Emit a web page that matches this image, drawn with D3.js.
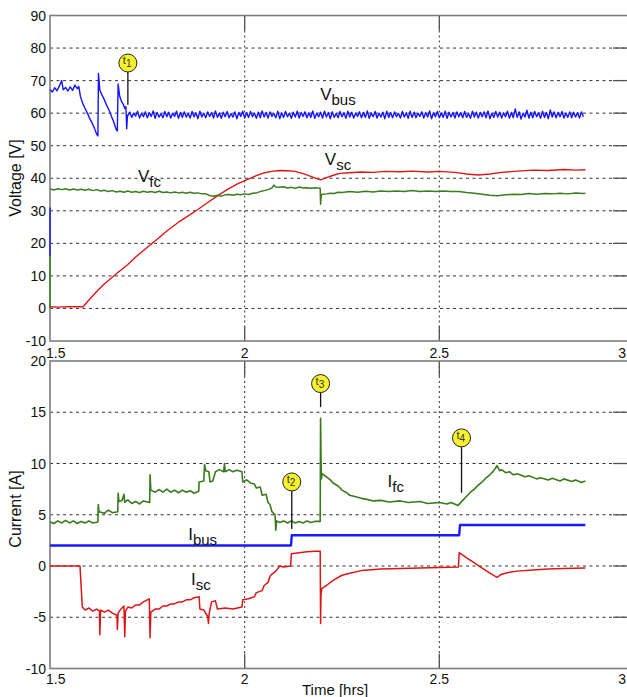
<!DOCTYPE html>
<html>
<head>
<meta charset="utf-8">
<script src="https://cdn.jsdelivr.net/npm/d3@7"></script>
<style>
  body { margin: 0; background: #fff; }
  text { font-family: "Liberation Sans", Arial, sans-serif; fill: #111; }
</style>
</head>
<body>
<svg id="chart" width="627" height="697"></svg>
<script>
// ---- data (time in hours) ----
var timeTicks = [1.5, 2, 2.5, 3];
var voltTicks = [-10, 0, 10, 20, 30, 40, 50, 60, 70, 80, 90];
var currTicks = [-10, -5, 0, 5, 10, 15, 20];

// V_bus: startup transient, then regulated ripple from 1.70 h
var vbusHead = [[1.5, 16], [1.5001, 31], [1.5002, null],
  [1.5005, 67.2], [1.506, 66.5], [1.512, 67.8], [1.518, 66.9], [1.524, 68.3], [1.530, 70.0],
  [1.534, 67.2], [1.540, 67.9], [1.546, 66.8], [1.552, 68.1], [1.558, 67.0], [1.564, 68.6],
  [1.570, 67.5], [1.574, 68.2], [1.578, 65.2], [1.584, 63.0], [1.590, 61.5], [1.596, 60.0],
  [1.602, 58.4], [1.608, 57.0], [1.614, 55.4], [1.620, 53.5], [1.623, 53.0], [1.6245, 72.2],
  [1.628, 67.0], [1.634, 65.5], [1.640, 64.0], [1.646, 62.3], [1.652, 60.8], [1.658, 59.0],
  [1.664, 57.2], [1.670, 55.0], [1.673, 54.5], [1.675, 69.0], [1.679, 65.2], [1.684, 63.5],
  [1.688, 62.8], [1.692, 61.4], [1.695, 62.0], [1.697, 55.2], [1.699, 59.4]];
var vbusRippleStart = 1.70, vbusRippleStep = 0.005;
var vbusRipple = [
  59.2, 60.3, 58.7, 60.0, 59.1, 60.6, 58.5, 59.9, 58.9, 60.4,
  58.6, 60.1, 59.0, 60.7, 58.4, 60.2, 58.8, 59.8, 58.6, 60.5,
  58.9, 60.3, 58.5, 60.0, 59.0, 60.6, 58.4, 60.2, 58.7, 60.4,
  58.8, 59.9, 58.5, 60.5, 58.9, 60.1, 58.3, 60.6, 58.8, 60.0,
  58.6, 60.4, 59.0, 60.2, 58.5, 60.7, 58.7, 60.0, 58.4, 60.3,
  58.9, 60.5, 58.6, 59.9, 58.8, 60.4, 58.3, 60.2, 59.0, 60.6,
  58.5, 60.1, 58.7, 60.5, 58.9, 60.0, 58.4, 60.3, 58.6, 60.7,
  58.8, 60.2, 58.5, 60.4, 59.0, 59.9, 58.6, 60.6, 58.3, 60.1,
  58.7, 60.5, 58.9, 60.0, 58.4, 60.3, 58.8, 60.6, 58.5, 60.2,
  59.0, 60.4, 58.6, 60.1, 58.7, 60.7, 58.4, 60.0, 58.9, 60.3,
  58.5, 60.6, 58.8, 60.2, 58.3, 60.4, 58.7, 59.9, 58.6, 60.5,
  58.9, 60.1, 58.4, 60.6, 58.8, 60.3, 58.5, 60.0, 59.0, 60.4,
  58.6, 60.2, 58.7, 60.7, 58.4, 60.1, 58.9, 60.5, 58.5, 60.0,
  58.8, 60.3, 58.3, 60.6, 58.7, 60.2, 58.6, 60.4, 58.9, 59.9,
  58.5, 60.5, 58.8, 60.1, 58.4, 60.6, 58.7, 60.3, 58.6, 60.0,
  59.0, 60.4, 58.5, 60.2, 58.8, 60.7, 58.3, 60.1, 58.9, 60.5,
  58.6, 60.0, 58.7, 60.6, 58.4, 60.3, 58.8, 60.2, 58.5, 60.4,
  58.9, 60.1, 58.6, 60.5, 58.7, 59.9, 58.4, 60.6, 58.8, 60.3,
  58.5, 60.2, 58.9, 60.4, 58.6, 60.7, 58.3, 60.0, 58.7, 60.5,
  58.8, 60.3, 58.5, 60.1, 58.9, 60.6, 58.4, 60.2, 58.6, 61.3,
  58.7, 60.4, 58.2, 60.0, 58.8, 60.9, 58.5, 60.3, 58.6, 60.5,
  58.9, 60.1, 58.4, 60.6, 58.7, 60.2, 58.3, 61.0, 58.8, 60.4,
  58.6, 60.2, 58.9, 60.5, 58.5, 60.0, 58.7, 60.4, 58.6, 60.3,
  58.8, 60.1, 58.5, 60.4, 58.9];

var vfc = [[1.5, 0], [1.5001, 16], [1.5002, null],
  [1.5005, 36.7], [1.51, 36.4], [1.52, 36.8], [1.53, 36.5], [1.54, 36.8], [1.55, 36.4], [1.56, 36.7],
  [1.57, 36.4], [1.58, 36.6], [1.59, 36.3], [1.60, 36.6], [1.61, 36.2], [1.62, 36.5], [1.63, 36.1],
  [1.64, 36.3], [1.65, 35.9], [1.66, 36.2], [1.67, 35.8], [1.68, 36.0], [1.69, 35.7], [1.70, 36.1],
  [1.71, 35.7], [1.72, 35.9], [1.73, 35.6], [1.74, 36.0], [1.75, 35.7], [1.76, 35.9], [1.77, 35.6],
  [1.78, 36.0], [1.79, 35.6], [1.80, 35.8], [1.81, 35.5], [1.82, 35.8], [1.83, 35.5], [1.84, 35.7],
  [1.85, 35.4], [1.86, 35.7], [1.87, 35.4], [1.88, 35.5], [1.89, 35.2], [1.90, 35.2], [1.91, 34.7],
  [1.92, 34.5], [1.93, 34.8], [1.94, 34.5], [1.95, 34.9], [1.96, 35.0], [1.97, 34.8], [1.98, 35.1],
  [1.99, 34.9], [2.00, 35.2], [2.01, 35.0], [2.02, 35.4], [2.03, 35.5], [2.04, 35.9], [2.05, 36.2],
  [2.06, 36.5], [2.07, 37.0], [2.075, 37.9], [2.08, 37.3], [2.09, 37.2], [2.10, 37.4], [2.11, 37.0],
  [2.12, 37.2], [2.13, 36.9], [2.14, 37.3], [2.15, 37.0], [2.16, 37.1], [2.17, 36.9], [2.18, 37.1],
  [2.194, 36.9], [2.195, 32.0], [2.197, 35.0], [2.21, 35.2], [2.22, 35.4], [2.23, 35.3], [2.24, 35.7],
  [2.25, 35.6], [2.27, 35.9], [2.29, 35.7], [2.31, 36.0], [2.33, 35.8], [2.35, 36.1], [2.37, 35.9],
  [2.39, 36.1], [2.41, 35.9], [2.43, 36.2], [2.45, 35.9], [2.47, 36.1], [2.49, 35.9], [2.51, 36.1],
  [2.53, 35.9], [2.55, 35.9], [2.57, 35.6], [2.59, 35.4], [2.61, 35.1], [2.63, 34.8], [2.65, 34.6],
  [2.67, 34.9], [2.69, 35.1], [2.71, 35.0], [2.73, 35.3], [2.75, 35.1], [2.77, 35.3], [2.79, 35.2],
  [2.81, 35.4], [2.83, 35.2], [2.85, 35.5], [2.87, 35.3], [2.875, 35.4]];

var vsc = [[1.5, 0.5], [1.52, 0.4], [1.55, 0.5], [1.585, 0.5], [1.60, 2.6], [1.62, 5.2],
  [1.64, 7.6], [1.66, 9.6], [1.672, 10.8], [1.70, 13.5], [1.72, 15.8], [1.74, 17.8], [1.757, 19.5],
  [1.78, 21.7], [1.80, 23.8], [1.83, 26.5], [1.852, 28.2], [1.88, 30.4], [1.903, 32.4], [1.93, 34.6],
  [1.954, 36.4], [1.98, 38.2], [2.005, 39.5], [2.03, 40.8], [2.048, 41.6], [2.07, 42.1], [2.09, 42.4],
  [2.11, 42.3], [2.13, 42.1], [2.15, 41.4], [2.17, 40.6], [2.185, 39.9], [2.195, 39.5], [2.21, 40.2],
  [2.23, 41.0], [2.245, 41.5], [2.27, 41.7], [2.30, 41.9], [2.33, 41.8], [2.36, 42.1], [2.40, 42.0],
  [2.43, 42.2], [2.47, 41.9], [2.50, 42.1], [2.54, 41.8], [2.57, 41.3], [2.60, 41.0], [2.63, 41.3],
  [2.66, 41.8], [2.70, 42.2], [2.74, 42.5], [2.78, 42.4], [2.82, 42.7], [2.85, 42.5], [2.875, 42.6]];

var ifc = [[1.5, 4.3], [1.51, 4.15], [1.52, 4.4], [1.53, 4.2], [1.54, 4.45], [1.55, 4.2], [1.56, 4.4],
  [1.57, 4.15], [1.58, 4.35], [1.59, 4.2], [1.60, 4.4], [1.61, 4.2], [1.623, 4.3], [1.624, 6.0],
  [1.626, 5.3], [1.64, 5.15], [1.65, 5.45], [1.66, 5.2], [1.674, 5.3], [1.675, 7.1], [1.677, 6.3],
  [1.685, 6.4], [1.690, 7.0], [1.692, 6.2], [1.70, 6.45], [1.71, 6.1], [1.72, 6.3], [1.73, 6.05],
  [1.74, 6.35], [1.756, 6.2], [1.757, 8.9], [1.759, 7.4], [1.77, 7.2], [1.78, 7.45], [1.79, 7.2],
  [1.80, 7.5], [1.81, 7.2], [1.82, 7.4], [1.83, 7.15], [1.84, 7.4], [1.85, 7.2], [1.86, 7.35],
  [1.87, 7.1], [1.882, 7.3], [1.883, 8.2], [1.895, 8.3], [1.897, 9.9], [1.90, 9.3], [1.908, 9.2],
  [1.911, 8.2], [1.918, 8.3], [1.925, 9.2], [1.935, 9.4], [1.946, 9.2], [1.948, 10.0], [1.950, 9.2],
  [1.96, 9.4], [1.97, 9.2], [1.98, 9.35], [1.993, 9.2], [1.995, 8.2], [2.005, 8.4], [2.015, 8.1],
  [2.025, 8.0], [2.03, 7.6], [2.04, 7.7], [2.045, 6.9], [2.055, 7.0], [2.06, 6.2], [2.065, 6.0],
  [2.07, 5.3], [2.078, 5.0], [2.08, 3.5], [2.082, 4.4], [2.09, 4.25], [2.10, 4.4], [2.11, 4.2],
  [2.12, 4.4], [2.13, 4.2], [2.14, 4.35], [2.15, 4.2], [2.16, 4.4], [2.17, 4.25], [2.18, 4.35],
  [2.194, 4.35], [2.195, 14.4], [2.196, 10.8], [2.197, 8.5], [2.199, 9.0], [2.21, 8.7], [2.22, 8.4],
  [2.227, 8.1], [2.24, 7.8], [2.25, 7.4], [2.26, 7.2], [2.27, 6.9], [2.28, 6.8], [2.29, 6.7],
  [2.30, 6.6], [2.314, 6.5], [2.33, 6.35], [2.35, 6.4], [2.37, 6.25], [2.40, 6.35], [2.42, 6.2],
  [2.45, 6.3], [2.47, 6.1], [2.50, 6.2], [2.52, 6.05], [2.53, 6.2], [2.548, 5.9], [2.56, 6.4],
  [2.57, 6.8], [2.58, 7.2], [2.59, 7.5], [2.60, 7.9], [2.61, 8.2], [2.62, 8.6], [2.63, 8.9],
  [2.64, 9.3], [2.648, 9.8], [2.655, 9.3], [2.66, 9.4], [2.67, 9.1], [2.68, 9.2], [2.69, 8.9],
  [2.70, 9.0], [2.72, 8.7], [2.73, 8.8], [2.75, 8.5], [2.76, 8.6], [2.78, 8.4], [2.79, 8.55],
  [2.81, 8.3], [2.82, 8.5], [2.84, 8.25], [2.85, 8.4], [2.865, 8.15], [2.875, 8.3]];

var ibus = [[1.5, 2], [2.119, 2], [2.121, 3], [2.551, 3], [2.553, 4], [2.875, 4]];

var isc = [[1.5, 0], [1.577, 0], [1.583, -4.0], [1.59, -4.3], [1.60, -4.1], [1.61, -4.4],
  [1.62, -4.2], [1.627, -4.4], [1.628, -6.7], [1.630, -4.3], [1.64, -4.5], [1.65, -4.3],
  [1.66, -4.6], [1.672, -4.8], [1.673, -6.2], [1.675, -4.6], [1.68, -4.3], [1.69, -3.9],
  [1.692, -6.9], [1.694, -4.4], [1.70, -4.0], [1.71, -4.1], [1.72, -3.8], [1.73, -3.8],
  [1.74, -3.5], [1.755, -3.2], [1.757, -7.0], [1.759, -4.5], [1.77, -4.2], [1.78, -4.2],
  [1.79, -3.9], [1.80, -3.9], [1.81, -3.7], [1.82, -3.7], [1.83, -3.5], [1.84, -3.5],
  [1.85, -3.3], [1.86, -3.3], [1.87, -3.1], [1.883, -3.0], [1.885, -4.2], [1.895, -4.3],
  [1.905, -4.9], [1.907, -5.6], [1.909, -4.6], [1.915, -3.5], [1.925, -3.4], [1.93, -4.2],
  [1.95, -4.1], [1.97, -4.2], [1.993, -4.0], [1.995, -3.3], [2.01, -3.2], [2.025, -3.0],
  [2.03, -2.6], [2.045, -2.4], [2.05, -1.9], [2.06, -1.6], [2.065, -1.0], [2.07, -0.8],
  [2.08, -0.5], [2.09, 0.0], [2.10, -0.1], [2.118, 0.0], [2.120, 1.2], [2.14, 1.3], [2.16, 1.4],
  [2.18, 1.45], [2.194, 1.45], [2.195, -5.6], [2.196, -2.8], [2.198, -2.2], [2.21, -1.9],
  [2.227, -1.4], [2.25, -0.9], [2.27, -0.7], [2.30, -0.45], [2.35, -0.3], [2.40, -0.25],
  [2.45, -0.2], [2.50, -0.15], [2.549, -0.1], [2.551, 1.3], [2.57, 0.8], [2.59, 0.3],
  [2.61, -0.2], [2.63, -0.7], [2.648, -1.1], [2.66, -0.8], [2.68, -0.6], [2.70, -0.5],
  [2.74, -0.4], [2.78, -0.3], [2.82, -0.25], [2.875, -0.2]];

// event markers t1..t4: circle centre (t, value) and foot of the stem
var markerNames = ['1', '2', '3', '4'];
var markerPanel = ['V', 'I', 'I', 'I'];
var markerTime  = [1.70, 2.121, 2.195, 2.557];
var markerHead  = [75.4, 8.2, 17.8, 12.5];
var markerFoot  = [62.6, 3.6, 15.5, 7.15];

// curve labels
var labelMain  = ['V', 'V', 'V', 'I', 'I', 'I'];
var labelSub   = ['bus', 'sc', 'fc', 'bus', 'sc', 'fc'];
var labelPanel = ['V', 'V', 'V', 'I', 'I', 'I'];
var labelTime  = [2.194, 2.206, 1.726, 1.855, 1.862, 2.367];
var labelValue = [64.0, 44.1, 38.8, 2.5, -1.85, 7.7];

// ---- drawing ----
var svg = d3.select('#chart');

var x = d3.scaleLinear().domain([1.5, 3]).range([50, 634]);
var yV = d3.scaleLinear().domain([-10, 90]).range([341, 15.5]);
var yI = d3.scaleLinear().domain([-10, 20]).range([668.5, 361]);
var scales = { V: yV, I: yI };

function build_panel(y, ticks, xLabelY) {
	var g = svg.append('g');
	var top = y.range()[1], bot = y.range()[0];

	// horizontal grid
	g.selectAll('line.hgrid')
		.data(ticks.slice(1, -1))
		.enter().append('line')
		.attr('x1', x(1.5)).attr('x2', x(3))
		.attr('y1', d => y(d)).attr('y2', d => y(d))
		.attr('stroke', '#333').attr('stroke-width', 1)
		.attr('stroke-dasharray', '3,3.5');

	// vertical grid
	g.selectAll('line.vgrid')
		.data(timeTicks.slice(1, -1))
		.enter().append('line')
		.attr('x1', d => x(d)).attr('x2', d => x(d))
		.attr('y1', top).attr('y2', bot)
		.attr('stroke', '#333').attr('stroke-width', 1)
		.attr('stroke-dasharray', '2,3');

	// inner tick marks (bottom/top and right side)
	timeTicks.slice(1, -1).forEach(function(t) {
		g.append('line').attr('x1', x(t)).attr('x2', x(t))
			.attr('y1', bot).attr('y2', bot - 15)
			.attr('stroke', '#555').attr('stroke-width', 1.3);
		g.append('line').attr('x1', x(t)).attr('x2', x(t))
			.attr('y1', top).attr('y2', top + 15)
			.attr('stroke', '#555').attr('stroke-width', 1.3);
	});
	ticks.slice(1, -1).forEach(function(v) {
		g.append('line').attr('x1', x(3) - 21).attr('x2', x(3))
			.attr('y1', y(v)).attr('y2', y(v))
			.attr('stroke', '#555').attr('stroke-width', 1.3);
	});

	// frame
	g.append('rect')
		.attr('x', x(1.5)).attr('y', top)
		.attr('width', x(3) - x(1.5)).attr('height', bot - top)
		.attr('fill', 'none').attr('stroke', '#7d7d7d').attr('stroke-width', 1.6);

	// y tick labels
	g.selectAll('text.ylab')
		.data(ticks)
		.enter().append('text')
		.attr('x', 46).attr('y', d => y(d) + 5)
		.attr('text-anchor', 'end')
		.style('font-size', '14px')
		.text(d => d);

	// x tick labels
	g.selectAll('text.xlab')
		.data(timeTicks)
		.enter().append('text')
		.attr('x', function(d, i) {
			if (i == 0) return x(d) - 4;
			if (i == timeTicks.length - 1) return 626;
			return x(d);
		})
		.attr('y', xLabelY)
		.attr('text-anchor', function(d, i) {
			if (i == 0) return 'start';
			if (i == timeTicks.length - 1) return 'end';
			return 'middle';
		})
		.style('font-size', '14px')
		.text(d => d);
}

build_panel(yV, voltTicks, 358);
build_panel(yI, currTicks, 684);

function draw_series(data, y, color, width) {
	var line = d3.line()
		.defined(d => d[1] !== null)
		.x(d => x(d[0]))
		.y(d => y(d[1]));
	svg.append('path')
		.datum(data)
		.attr('d', line)
		.attr('fill', 'none')
		.attr('stroke', color)
		.attr('stroke-width', width)
		.attr('stroke-linejoin', 'round');
}

var vbus = vbusHead.concat(vbusRipple.map(function(v, i) {
	return [vbusRippleStart + i * vbusRippleStep, v];
}));

draw_series(vsc, yV, '#e01515', 1.4);
draw_series(vfc, yV, '#3a7d1e', 1.5);
draw_series(vbus, yV, '#1414ff', 1.4);

draw_series(isc, yI, '#dd1515', 1.5);
draw_series(ifc, yI, '#3a7a1c', 1.6);
draw_series(ibus, yI, '#1a1aff', 2.4);

// curve labels
labelMain.forEach(function(m, i) {
	var y = scales[labelPanel[i]];
	var t = svg.append('text')
		.attr('x', x(labelTime[i]))
		.attr('y', y(labelValue[i]))
		.style('font-size', '17px');
	t.append('tspan').text(m);
	t.append('tspan').attr('dy', 5).style('font-size', '15px').text(labelSub[i]);
});

// event markers
markerNames.forEach(function(n, i) {
	var y = scales[markerPanel[i]];
	var cx = x(markerTime[i]), cy = y(markerHead[i]), r = 9;
	svg.append('line')
		.attr('x1', cx).attr('x2', cx)
		.attr('y1', cy + r).attr('y2', y(markerFoot[i]))
		.attr('stroke', '#111').attr('stroke-width', 1.3);
	svg.append('circle')
		.attr('cx', cx).attr('cy', cy).attr('r', r)
		.attr('fill', '#f8f22c').attr('stroke', '#222').attr('stroke-width', 1);
	var t = svg.append('text')
		.attr('x', cx - 5).attr('y', cy + 1)
		.style('font-size', '11px').style('fill', '#333');
	t.append('tspan').text('t');
	t.append('tspan').attr('dy', 3).style('font-size', '10px').text(n);
});

// axis titles
svg.append('text')
	.attr('transform', 'translate(21,178) rotate(-90)')
	.attr('text-anchor', 'middle')
	.style('font-size', '16px')
	.text('Voltage [V]');
svg.append('text')
	.attr('transform', 'translate(21,509) rotate(-90)')
	.attr('text-anchor', 'middle')
	.style('font-size', '16px')
	.text('Current [A]');
svg.append('text')
	.attr('x', 302).attr('y', 695)
	.style('font-size', '15px')
	.text('Time [hrs]');
</script>
</body>
</html>
